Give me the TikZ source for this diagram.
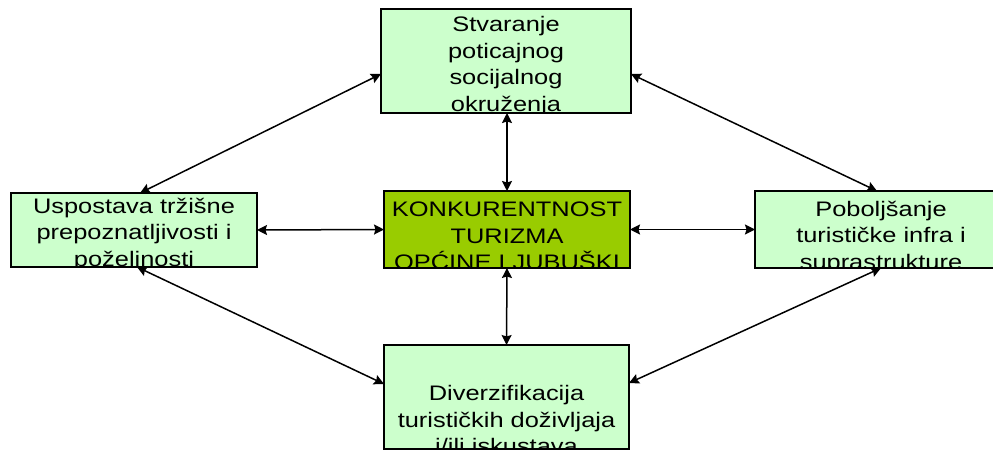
\documentclass[tikz,border=0pt]{standalone}
\usepackage{fontspec}
\setmainfont{Liberation Sans}[FakeStretch=1.21]
\usetikzlibrary{arrows.meta}
\definecolor{lightgr}{RGB}{204,255,204}
\definecolor{centergr}{RGB}{153,204,0}
\begin{document}
\begin{tikzpicture}[x=1pt,y=1pt,
  box/.style={fill=lightgr, draw=black, line width=1.6pt, inner sep=0pt, outer sep=0pt},
  cbox/.style={box, fill=centergr},
  boxline/.style={draw=black, line width=1.6pt},
  txt/.style={font=\fontsize{21}{26.5}\selectfont, align=center, inner sep=0pt, anchor=north, text=black},
  link/.style={line width=1.5pt, {Stealth[length=10pt,width=10pt,inset=1.5pt]}-{Stealth[length=10pt,width=10pt,inset=1.5pt]}}]
\useasboundingbox (0,0) rectangle (993,451);
% boxes
\node[box, minimum width=250pt, minimum height=104pt] (T) at (506,390) {};
\node[cbox, minimum width=246pt, minimum height=77pt] (C) at (507,221.5) {};
\node[box, minimum width=246pt, minimum height=74pt] (L) at (134,221) {};
\node[box, minimum width=252pt, minimum height=77pt] (R) at (881,221.5) {};
\node[box, minimum width=245pt, minimum height=104pt] (B) at (506.5,54) {};
% texts (clipped to boxes)
\begin{scope}
\clip (T.south west) rectangle (T.north east);
\node[txt] (Tt) at ([yshift=-7.4pt]T.north) {Stvaranje\\poticajnog\\socijalnog\\okruženja};
\end{scope}
\begin{scope}
\clip (C.south west) rectangle (C.north east);
\node[txt] (Ct) at ([yshift=-11pt]C.north) {KONKURENTNOST\\TURIZMA\\OPĆINE LJUBUŠKI};
\end{scope}
\begin{scope}
\clip (L.south west) rectangle (L.north east);
\node[txt] (Lt) at ([yshift=-4.7pt]L.north) {Uspostava tržišne\\prepoznatljivosti i\\poželjnosti};
\end{scope}
\begin{scope}
\clip (R.south west) rectangle (R.north east);
\node[txt] (Rt) at ([yshift=-9.7pt]R.north) {Poboljšanje\\turističke infra i\\suprastrukture};
\end{scope}
\begin{scope}
\clip (B.south west) rectangle (B.north east);
\node[txt] (Bt) at ([yshift=-40.4pt]B.north) {Diverzifikacija\\turističkih doživljaja\\i/ili iskustava};
\end{scope}
% borders on top of text
\foreach \n in {T,C,L,R,B} {\draw[boxline] (\n.south west) rectangle (\n.north east);}
% connectors
\draw[link] (C.north |- T.south) -- (C.north);
\draw[link] (C.south) -- (B.north);
\draw[link] (C.west) -- (L.east);
\draw[link] (C.east) -- (R.west);
\draw[link] ([yshift=-13pt]T.west) -- ([xshift=6pt]L.north);
\draw[link] ([yshift=-13pt]T.east) -- ([xshift=-4pt]R.north);
\draw[link] ([xshift=3pt]L.south) -- ([yshift=13pt]B.west);
\draw[link] (R.south) -- ([yshift=14pt]B.east);
\end{tikzpicture}
\end{document}
